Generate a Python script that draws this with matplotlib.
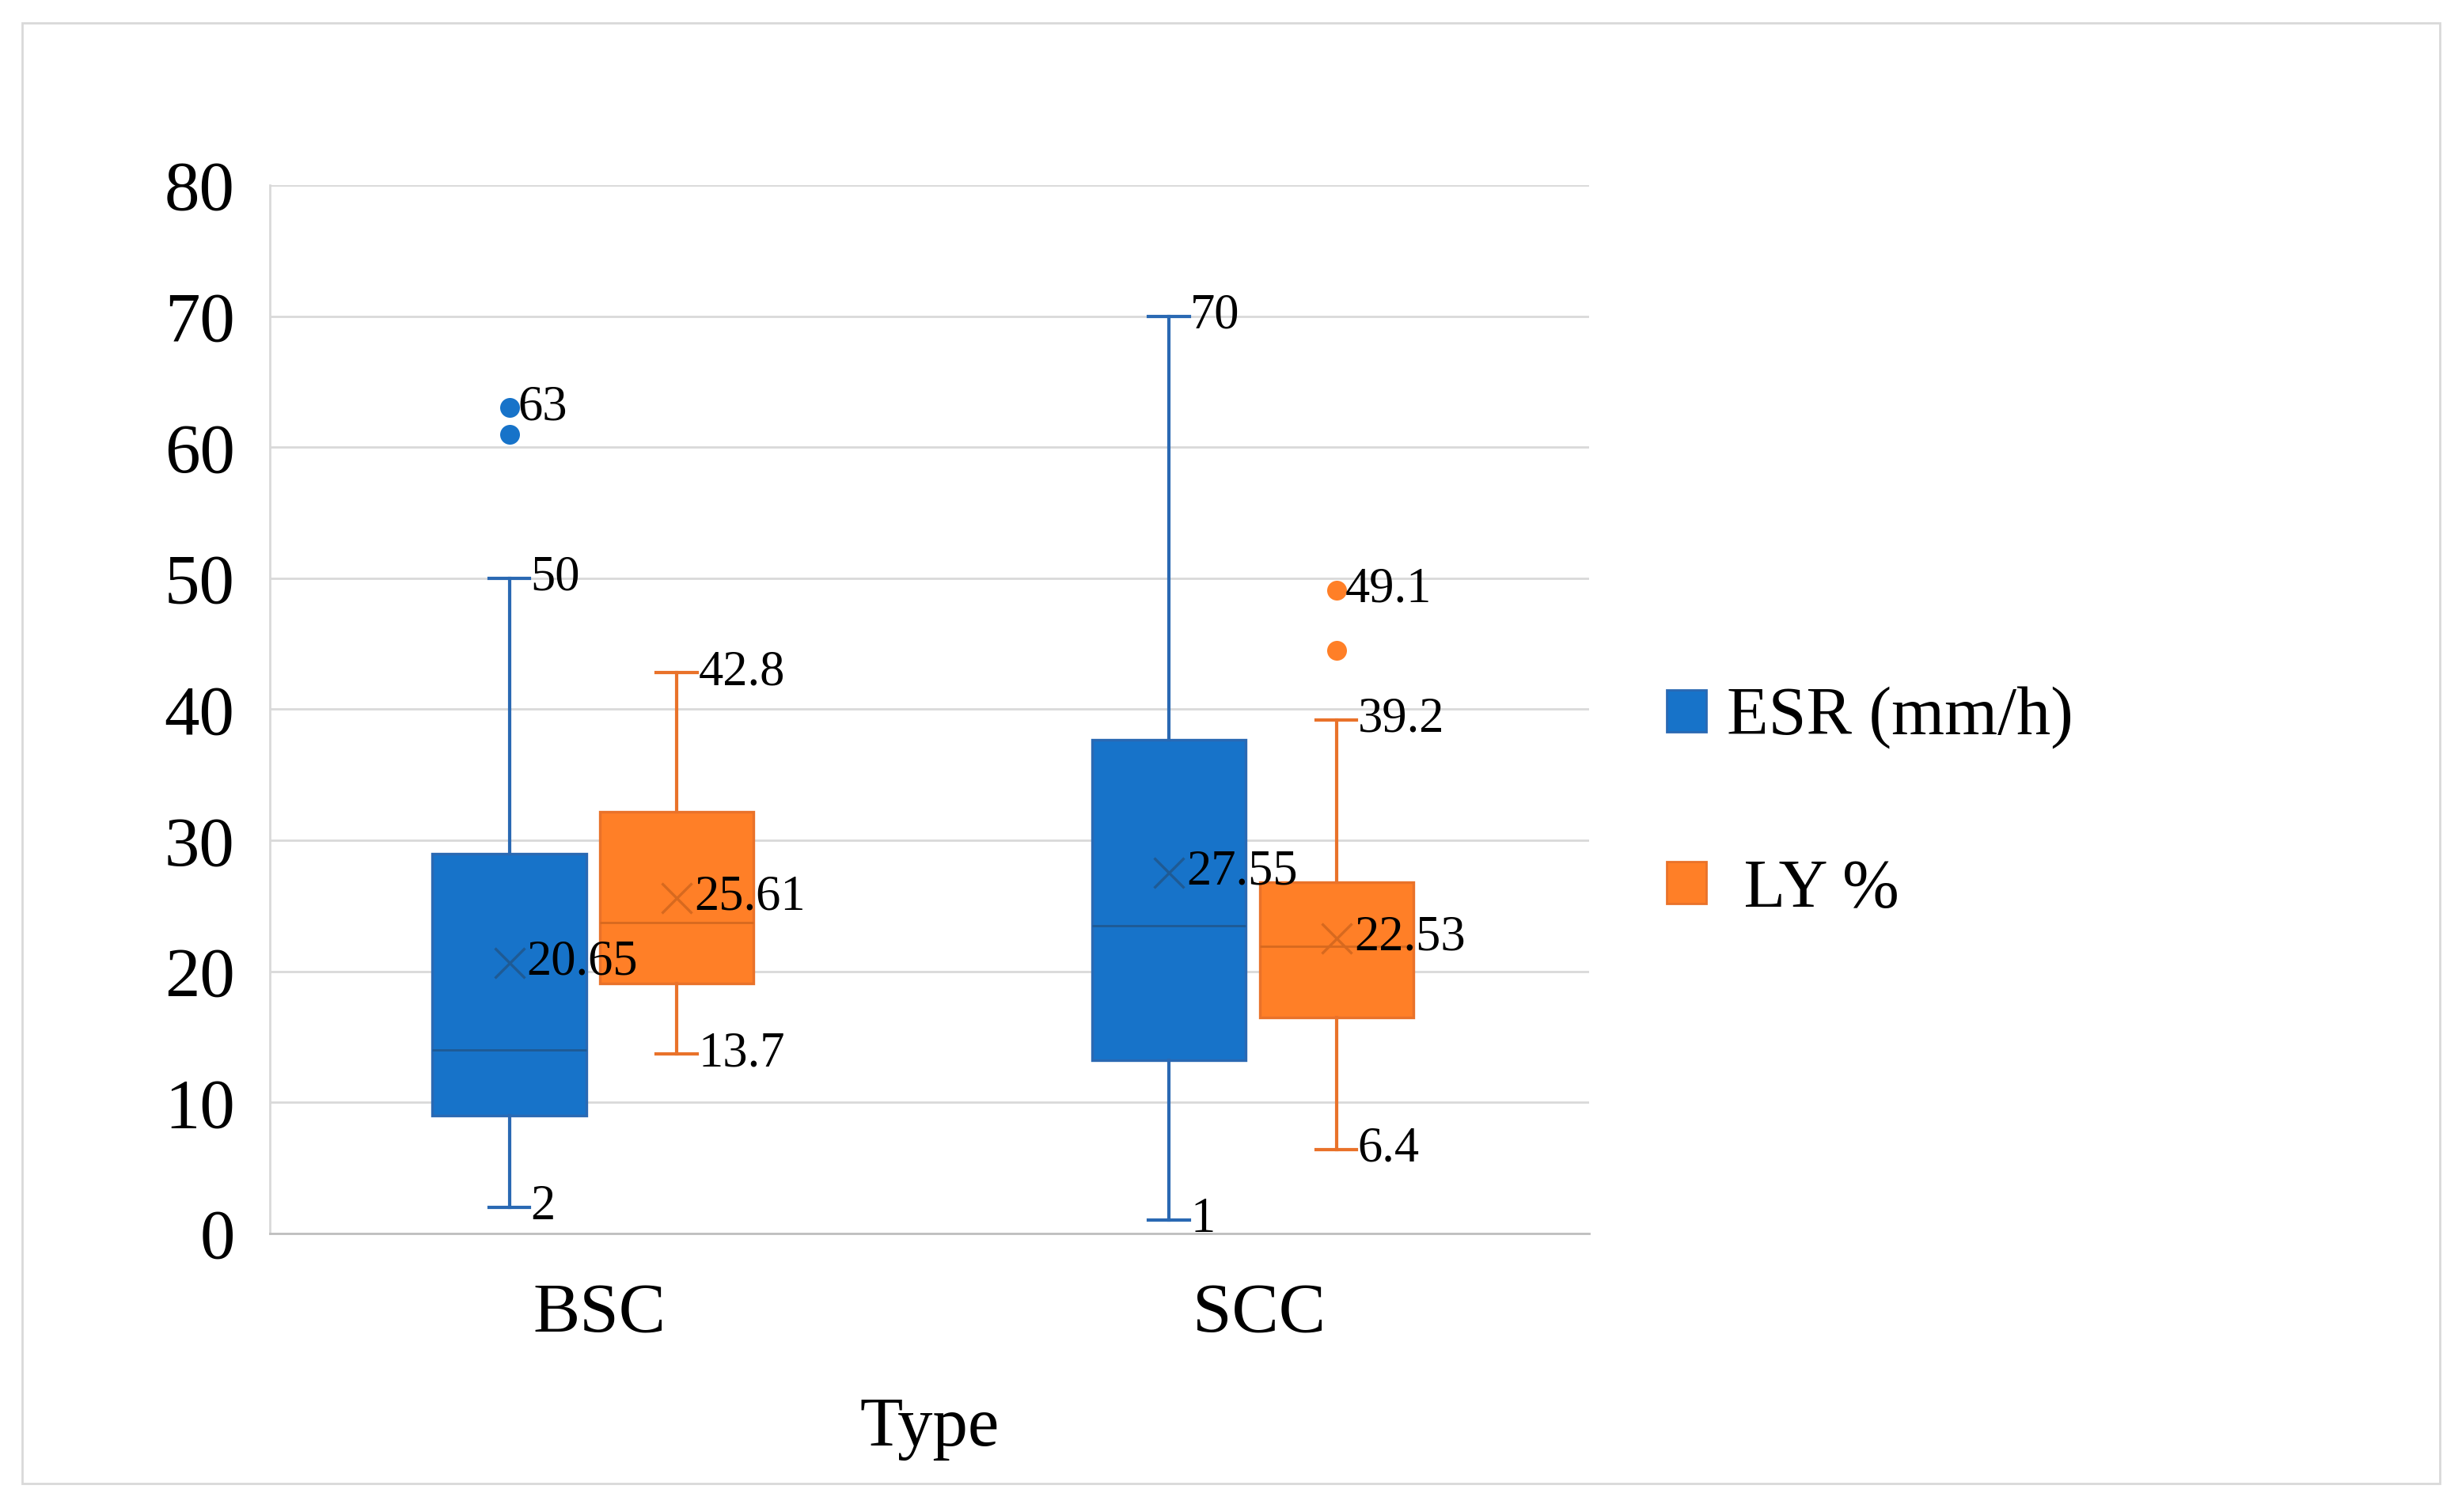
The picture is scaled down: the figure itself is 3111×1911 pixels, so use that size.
import matplotlib
matplotlib.use('Agg')
import matplotlib.pyplot as plt
from matplotlib.patches import Patch, Rectangle

plt.rcParams['font.family'] = ['Liberation Serif', 'DejaVu Serif']

# ---- data ----
categories = ['BSC', 'SCC']

esr_min = [2, 1]
esr_q1 = [9, 13.2]
esr_med = [14, 23.5]
esr_q3 = [29, 37.7]
esr_max = [50, 70]
esr_mean = [20.65, 27.55]
esr_outliers = [[61, 63], []]

ly_min = [13.7, 6.4]
ly_q1 = [19.1, 16.5]
ly_med = [23.7, 21.9]
ly_q3 = [32.2, 26.8]
ly_max = [42.8, 39.2]
ly_mean = [25.61, 22.53]
ly_outliers = [[], [44.5, 49.1]]

y_ticks = [0, 10, 20, 30, 40, 50, 60, 70, 80]

# ---- style ----
blue = '#1773c9'
blue_edge = '#2a69b3'
blue_dark = '#1f5a94'
orange = '#ff7f27'
orange_edge = '#e9722a'
orange_dark = '#d7691f'

box_w = 0.233
cap_w = 0.062
lab_fs = 22.5


def make_stats(lo, q1, med, q3, hi, mean, fl):
    return [dict(whislo=lo[i], q1=q1[i], med=med[i], q3=q3[i], whishi=hi[i],
                 mean=mean[i], fliers=fl[i]) for i in range(len(lo))]


fig = plt.figure(figsize=(15.555, 9.555), dpi=200)
ax = fig.add_axes([0.1096, 0.1842, 0.5358, 0.6934])

# outer frame
fig.patches.append(Rectangle((0.009, 0.019), 0.982, 0.966, transform=fig.transFigure,
                             fill=False, edgecolor='#d9d9d9', linewidth=1.0))

centers = [0.5, 1.5]
series = [
    (make_stats(esr_min, esr_q1, esr_med, esr_q3, esr_max, esr_mean, esr_outliers),
     -0.137, blue, blue_edge, blue_dark, esr_min, esr_max, esr_mean, esr_outliers),
    (make_stats(ly_min, ly_q1, ly_med, ly_q3, ly_max, ly_mean, ly_outliers),
     0.117, orange, orange_edge, orange_dark, ly_min, ly_max, ly_mean, ly_outliers),
]

for stats, off, fc, ec, dc, lo, hi, mean, fl in series:
    pos = [c + off for c in centers]
    ax.bxp(stats, positions=pos, widths=box_w, capwidths=cap_w, patch_artist=True,
           showmeans=True, manage_ticks=False,
           boxprops=dict(facecolor=fc, edgecolor=ec, linewidth=1.2),
           whiskerprops=dict(color=ec, linewidth=1.5),
           capprops=dict(color=ec, linewidth=1.5),
           medianprops=dict(color=dc, linewidth=1.0),
           meanprops=dict(marker='x', markeredgecolor=dc, markersize=14, markeredgewidth=1.2),
           flierprops=dict(marker='o', markerfacecolor=fc, markeredgecolor=fc, markersize=8))
    for i, p in enumerate(pos):
        ax.annotate(f'{hi[i]:g}', (p + cap_w / 2, hi[i]), xytext=(0.5, 0),
                    textcoords='offset points', ha='left', va='center', fontsize=lab_fs)
        ax.annotate(f'{lo[i]:g}', (p + cap_w / 2, lo[i]), xytext=(0.5, 0),
                    textcoords='offset points', ha='left', va='center', fontsize=lab_fs)
        ax.annotate(f'{mean[i]:g}', (p, mean[i]), xytext=(8, 0),
                    textcoords='offset points', ha='left', va='center', fontsize=lab_fs)
        if fl[i]:
            ax.annotate(f'{max(fl[i]):g}', (p, max(fl[i])), xytext=(4, 0),
                        textcoords='offset points', ha='left', va='center', fontsize=lab_fs)

ax.set_xlim(0, 2)
ax.set_ylim(0, 80)
ax.set_yticks(y_ticks)
ax.set_xticks(centers)
ax.set_xticklabels(categories)
ax.tick_params(axis='both', length=0, labelsize=32)
ax.tick_params(axis='y', pad=16)
ax.tick_params(axis='x', pad=22)
ax.set_xlabel('Type', fontsize=32, labelpad=23)

ax.grid(axis='y', color='#d9d9d9', linewidth=1.0)
ax.set_axisbelow(True)
for s in ['top', 'right']:
    ax.spines[s].set_visible(False)
ax.spines['left'].set_color('#d9d9d9')
ax.spines['left'].set_linewidth(1.0)
ax.spines['bottom'].set_color('#bfbfbf')
ax.spines['bottom'].set_linewidth(1.0)

handles = [Patch(facecolor=blue, edgecolor=blue_edge, label='ESR (mm/h)'),
           Patch(facecolor=orange, edgecolor=orange_edge, label=' LY %')]
fig.legend(handles=handles, loc='center left', bbox_to_anchor=(0.666, 0.468),
           borderaxespad=0, frameon=False, fontsize=31, handlelength=0.58,
           handleheight=0.58, handletextpad=0.3, labelspacing=1.6)

fig.savefig('out.png', dpi=200)
